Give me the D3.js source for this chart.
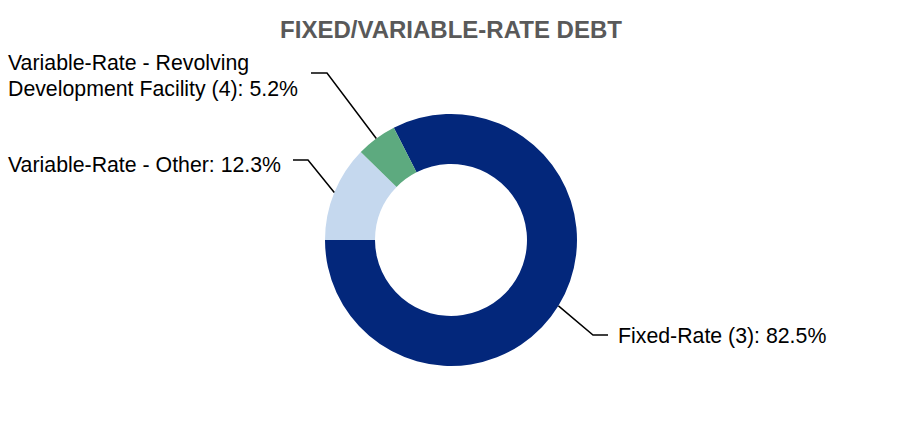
<!DOCTYPE html>
<html>
<head>
<meta charset="utf-8">
<script src="https://cdn.jsdelivr.net/npm/d3@7"></script>
<style>
  body { margin: 0; background: #fff; }
  svg { display: block; font-family: "Liberation Sans", Arial, sans-serif; }
</style>
</head>
<body>
<svg id="chart" width="902" height="422"></svg>
<script>
// data
var categories = ["Fixed-Rate (3)", "Variable-Rate - Other", "Variable-Rate - Revolving Development Facility (4)"];
var shares = [82.5, 12.3, 5.2];
var colors = ["#03277b", "#c5d8ee", "#5daa7f"];

// label lines (text broken where the reference wraps it)
var labelLines = [
  ["Fixed-Rate (3): 82.5%"],
  ["Variable-Rate - Other: 12.3%"],
  ["Variable-Rate - Revolving", "Development Facility (4): 5.2%"]
];

var svg = d3.select("#chart"),
    cx = 451, cy = 240,
    outerR = 126, innerR = 76;

svg.append("text")
    .attr("x", cx)
    .attr("y", 38)
    .attr("text-anchor", "middle")
    .attr("font-weight", "bold")
    .attr("font-size", 24)
    .attr("fill", "#595959")
    .text("FIXED/VARIABLE-RATE DEBT");

var data = categories.map(function(c, i) {
  return { name: c, value: shares[i], color: colors[i], lines: labelLines[i] };
});

var pie = d3.pie()
    .value(function(d) { return d.value; })
    .sort(null)
    .startAngle(-27 * Math.PI / 180)
    .endAngle((360 - 27) * Math.PI / 180);

var arc = d3.arc().innerRadius(innerR).outerRadius(outerR);
var edge = d3.arc().innerRadius(outerR).outerRadius(outerR);

var g = svg.append("g").attr("transform", "translate(" + cx + "," + cy + ")");
var arcs = pie(data);

g.selectAll("path.slice")
    .data(arcs)
    .enter().append("path")
    .attr("class", "slice")
    .attr("d", arc)
    .attr("fill", function(d) { return d.data.color; });

// callout placement: elbow point, end of the short horizontal, text anchor
var callouts = [
  { elbow: [593, 335], end: [608, 335], tx: 618, ty: 343 },
  { elbow: [308, 160], end: [293, 160], tx: 8, ty: 172 },
  { elbow: [327, 73], end: [311, 73], tx: 8, ty: 70 }
];

arcs.forEach(function(d, i) {
  var c = callouts[i];
  var p = edge.centroid(d);
  var start = [cx + p[0], cy + p[1]];
  svg.append("polyline")
      .attr("points", [start, c.elbow, c.end].map(function(q) { return q.join(","); }).join(" "))
      .attr("fill", "none")
      .attr("stroke", "#000")
      .attr("stroke-width", 1.5);

  var t = svg.append("text")
      .attr("x", c.tx)
      .attr("y", c.ty)
      .attr("font-size", 21.3)
      .attr("fill", "#000");
  d.data.lines.forEach(function(line, j) {
    t.append("tspan")
        .attr("x", c.tx)
        .attr("dy", j === 0 ? 0 : 25.5)
        .text(line);
  });
});
</script>
</body>
</html>
